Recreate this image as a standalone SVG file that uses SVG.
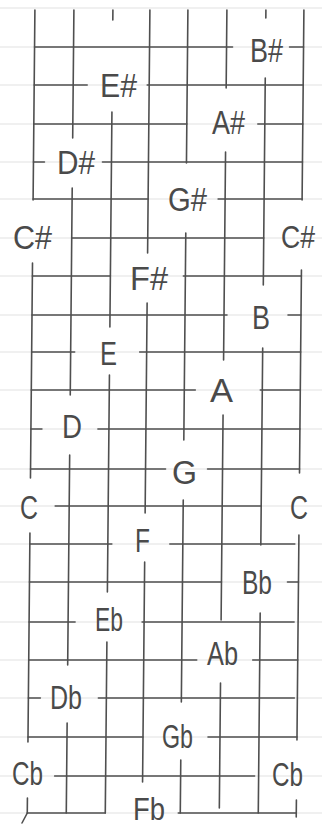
<svg xmlns="http://www.w3.org/2000/svg" width="322" height="828" viewBox="0 0 322 828">
<style>
.paper{stroke:#f0f0f0;stroke-width:2}
.g{stroke:#4f4f4f;stroke-width:1.6;fill:none;stroke-linecap:round}
.n{font-family:"Liberation Sans",Arial,sans-serif;font-size:34px;fill:#4a4a4a}
</style>
<rect width="322" height="828" fill="#ffffff"/>
<g id="paper-rules" class="paper">
<path d="M0 8H322M0 47H322M0 85H322M0 124H322M0 162H322M0 199H322M0 238H322M0 276H322M0 315H322M0 352H322M0 390H322M0 429H322M0 469H322M0 506H322M0 544H322M0 582H322M0 622H322M0 660H322M0 698H322M0 737H322M0 776H322M0 813H322"/>
</g>
<g id="grid" class="g" transform="matrix(1 0 -0.0095 1 0 0)">
<path d="M35 47H233M290 47H304M35 85H88M148 85H304M35 124H188M259 124H304M35 162H46M104 162H304M35 199H150M220 199H304M74 238H266M35 276H113M186 276H304M35 315H230M291 315H304M35 352H78M143 352H304M35 390H199M264 390H304M35 429H46M102 429H304M35 469H170M212 469H304M60 506H266M35 544H117M175 544H300M35 582H227M293 582H304M35 622H81M148 622H300M35 660H203M259 660H304M35 698H47M105 698H301M35 737H150M215 737H304M62 776H262M35 813H113M186 813H304"/>
<path d="M35 10V200M35 263V478M35 533V742M35 798V813M74 10V138M74 188V395M74 455V665M74 723V813M113 10V20M113 112V327M113 375V592M113 642V813M150 10V253M150 303V513M150 562V782M188 10V163M188 233V440M188 500V702M188 760V813M227 10V88M227 152V360M227 415V620M227 683V808M266 10V18M266 78V285M266 348V545M266 613V813M304 10V200M304 270V473M304 535V740M304 800V817"/>
</g>
<path id="flick" class="g" d="M27.3 813L22 823"/>
<g id="labels" class="n">
<text id="n-bs" x="250" y="62" textLength="33" lengthAdjust="spacingAndGlyphs">B#</text>
<text id="n-es" x="100" y="97" textLength="37" lengthAdjust="spacingAndGlyphs">E#</text>
<text id="n-as" x="212" y="134" textLength="33" lengthAdjust="spacingAndGlyphs">A#</text>
<text id="n-ds" x="57" y="174" textLength="38" lengthAdjust="spacingAndGlyphs">D#</text>
<text id="n-gs" x="168" y="211" textLength="39" lengthAdjust="spacingAndGlyphs">G#</text>
<text id="n-cs1" x="13" y="249" textLength="39" lengthAdjust="spacingAndGlyphs">C#</text>
<text id="n-cs2" x="281" y="248" textLength="34" lengthAdjust="spacingAndGlyphs" style="font-size:31px">C#</text>
<text id="n-fs" x="130" y="290" textLength="38" lengthAdjust="spacingAndGlyphs">F#</text>
<text id="n-b" x="252" y="329" textLength="18" lengthAdjust="spacingAndGlyphs">B</text>
<text id="n-e" x="100" y="365" textLength="17" lengthAdjust="spacingAndGlyphs">E</text>
<text id="n-a" x="210" y="402" textLength="23" lengthAdjust="spacingAndGlyphs">A</text>
<text id="n-d" x="62" y="438" textLength="20" lengthAdjust="spacingAndGlyphs">D</text>
<text id="n-g" x="172" y="484" textLength="25" lengthAdjust="spacingAndGlyphs">G</text>
<text id="n-c1" x="20" y="519" textLength="18" lengthAdjust="spacingAndGlyphs">C</text>
<text id="n-c2" x="290" y="519" textLength="18" lengthAdjust="spacingAndGlyphs">C</text>
<text id="n-f" x="135" y="552" textLength="15" lengthAdjust="spacingAndGlyphs">F</text>
<text id="n-bb" x="242" y="594" textLength="30" lengthAdjust="spacingAndGlyphs">Bb</text>
<text id="n-eb" x="95" y="631" textLength="28" lengthAdjust="spacingAndGlyphs">Eb</text>
<text id="n-ab" x="207" y="665" textLength="31" lengthAdjust="spacingAndGlyphs">Ab</text>
<text id="n-db" x="50" y="709" textLength="32" lengthAdjust="spacingAndGlyphs">Db</text>
<text id="n-gb" x="162" y="748" textLength="31" lengthAdjust="spacingAndGlyphs">Gb</text>
<text id="n-cb1" x="12" y="785" textLength="31" lengthAdjust="spacingAndGlyphs">Cb</text>
<text id="n-cb2" x="272" y="786" textLength="31" lengthAdjust="spacingAndGlyphs">Cb</text>
<text id="n-fb" x="133" y="820" textLength="32" lengthAdjust="spacingAndGlyphs" style="font-size:32px">Fb</text>
</g>
</svg>
